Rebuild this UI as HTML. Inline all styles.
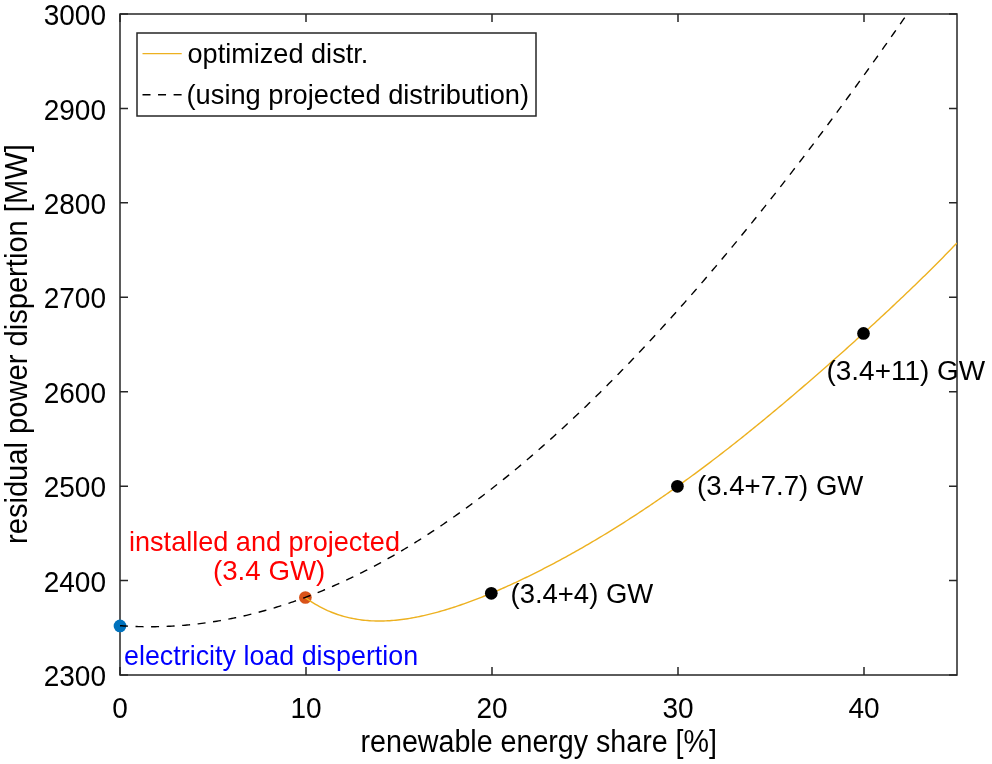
<!DOCTYPE html>
<html><head><meta charset="utf-8"><style>html,body{margin:0;padding:0;background:#fff;}svg{display:block;will-change:transform;}</style></head>
<body>
<svg width="992" height="764" viewBox="0 0 992 764">
<defs><clipPath id="ax"><rect x="120.0" y="14.0" width="837.0000000000001" height="661.0"/></clipPath></defs>
<rect x="0" y="0" width="992" height="764" fill="#fff"/>
<path d="M120.00,675.0 V667.0 M120.00,14.00 V22.00 M306.00,675.0 V667.0 M306.00,14.00 V22.00 M492.00,675.0 V667.0 M492.00,14.00 V22.00 M678.00,675.0 V667.0 M678.00,14.00 V22.00 M864.00,675.0 V667.0 M864.00,14.00 V22.00 M120.0,675.00 H128.0 M957.0000000000001,675.00 H949.0000000000001 M120.0,580.57 H128.0 M957.0000000000001,580.57 H949.0000000000001 M120.0,486.14 H128.0 M957.0000000000001,486.14 H949.0000000000001 M120.0,391.71 H128.0 M957.0000000000001,391.71 H949.0000000000001 M120.0,297.29 H128.0 M957.0000000000001,297.29 H949.0000000000001 M120.0,202.86 H128.0 M957.0000000000001,202.86 H949.0000000000001 M120.0,108.43 H128.0 M957.0000000000001,108.43 H949.0000000000001 M120.0,14.00 H128.0 M957.0000000000001,14.00 H949.0000000000001" stroke="#262626" stroke-width="1.5" fill="none"/>
<rect x="120.0" y="14.00" width="837.00" height="661.00" fill="none" stroke="#262626" stroke-width="1.5"/>
<text x="120.00" y="717.6" font-family="&apos;Liberation Sans&apos;, sans-serif" font-size="29" fill="#000" text-anchor="middle" textLength="15.58" lengthAdjust="spacingAndGlyphs">0</text>
<text x="306.00" y="717.6" font-family="&apos;Liberation Sans&apos;, sans-serif" font-size="29" fill="#000" text-anchor="middle" textLength="31.16" lengthAdjust="spacingAndGlyphs">10</text>
<text x="492.00" y="717.6" font-family="&apos;Liberation Sans&apos;, sans-serif" font-size="29" fill="#000" text-anchor="middle" textLength="31.16" lengthAdjust="spacingAndGlyphs">20</text>
<text x="678.00" y="717.6" font-family="&apos;Liberation Sans&apos;, sans-serif" font-size="29" fill="#000" text-anchor="middle" textLength="31.16" lengthAdjust="spacingAndGlyphs">30</text>
<text x="864.00" y="717.6" font-family="&apos;Liberation Sans&apos;, sans-serif" font-size="29" fill="#000" text-anchor="middle" textLength="31.16" lengthAdjust="spacingAndGlyphs">40</text>
<text x="106.0" y="686.10" font-family="&apos;Liberation Sans&apos;, sans-serif" font-size="29" fill="#000" text-anchor="end" textLength="62.32" lengthAdjust="spacingAndGlyphs">2300</text>
<text x="106.0" y="591.67" font-family="&apos;Liberation Sans&apos;, sans-serif" font-size="29" fill="#000" text-anchor="end" textLength="62.32" lengthAdjust="spacingAndGlyphs">2400</text>
<text x="106.0" y="497.24" font-family="&apos;Liberation Sans&apos;, sans-serif" font-size="29" fill="#000" text-anchor="end" textLength="62.32" lengthAdjust="spacingAndGlyphs">2500</text>
<text x="106.0" y="402.81" font-family="&apos;Liberation Sans&apos;, sans-serif" font-size="29" fill="#000" text-anchor="end" textLength="62.32" lengthAdjust="spacingAndGlyphs">2600</text>
<text x="106.0" y="308.39" font-family="&apos;Liberation Sans&apos;, sans-serif" font-size="29" fill="#000" text-anchor="end" textLength="62.32" lengthAdjust="spacingAndGlyphs">2700</text>
<text x="106.0" y="213.96" font-family="&apos;Liberation Sans&apos;, sans-serif" font-size="29" fill="#000" text-anchor="end" textLength="62.32" lengthAdjust="spacingAndGlyphs">2800</text>
<text x="106.0" y="119.53" font-family="&apos;Liberation Sans&apos;, sans-serif" font-size="29" fill="#000" text-anchor="end" textLength="62.32" lengthAdjust="spacingAndGlyphs">2900</text>
<text x="106.0" y="25.10" font-family="&apos;Liberation Sans&apos;, sans-serif" font-size="29" fill="#000" text-anchor="end" textLength="62.32" lengthAdjust="spacingAndGlyphs">3000</text>
<circle cx="120" cy="625.9" r="6.35" fill="#0072BD"/>
<circle cx="305.4" cy="597.5" r="6.35" fill="#D95319"/>
<g clip-path="url(#ax)">
<path d="M305.50,597.75 L307.50,599.17 L309.51,600.54 L311.51,601.85 L313.52,603.11 L315.52,604.32 L317.53,605.48 L319.53,606.59 L321.54,607.65 L323.54,608.66 L325.55,609.62 L327.55,610.54 L329.56,611.41 L331.56,612.24 L333.56,613.02 L335.57,613.76 L337.57,614.47 L339.58,615.13 L341.58,615.75 L343.59,616.33 L345.59,616.87 L347.60,617.38 L349.60,617.85 L351.61,618.28 L353.61,618.68 L355.62,619.05 L357.62,619.38 L359.62,619.68 L361.63,619.95 L363.63,620.18 L365.64,620.39 L367.64,620.56 L369.65,620.71 L371.65,620.83 L373.66,620.92 L375.66,620.98 L377.67,621.01 L379.67,621.02 L381.68,621.00 L383.68,620.96 L385.68,620.90 L387.69,620.81 L389.69,620.69 L391.70,620.55 L393.70,620.39 L395.71,620.21 L397.71,620.01 L399.72,619.79 L401.72,619.54 L403.73,619.28 L405.73,618.99 L407.74,618.69 L409.74,618.37 L411.74,618.02 L413.75,617.67 L415.75,617.29 L417.76,616.90 L419.76,616.48 L421.77,616.06 L423.77,615.61 L425.78,615.16 L427.78,614.68 L429.79,614.19 L431.79,613.69 L433.80,613.17 L435.80,612.63 L437.80,612.09 L439.81,611.53 L441.81,610.95 L443.82,610.36 L445.82,609.76 L447.83,609.15 L449.83,608.53 L451.84,607.89 L453.84,607.24 L455.85,606.58 L457.85,605.91 L459.86,605.23 L461.86,604.53 L463.86,603.83 L465.87,603.11 L467.87,602.39 L469.88,601.65 L471.88,600.90 L473.89,600.15 L475.89,599.38 L477.90,598.61 L479.90,597.82 L481.91,597.03 L483.91,596.23 L485.92,595.42 L487.92,594.60 L489.92,593.77 L491.93,592.93 L493.93,592.09 L495.94,591.23 L497.94,590.37 L499.95,589.50 L501.95,588.62 L503.96,587.74 L505.96,586.84 L507.97,585.94 L509.97,585.03 L511.98,584.12 L513.98,583.19 L515.98,582.26 L517.99,581.32 L519.99,580.38 L522.00,579.42 L524.00,578.46 L526.01,577.50 L528.01,576.52 L530.02,575.54 L532.02,574.56 L534.03,573.56 L536.03,572.56 L538.04,571.55 L540.04,570.54 L542.04,569.52 L544.05,568.49 L546.05,567.46 L548.06,566.42 L550.06,565.37 L552.07,564.32 L554.07,563.26 L556.08,562.19 L558.08,561.12 L560.09,560.04 L562.09,558.96 L564.10,557.87 L566.10,556.77 L568.10,555.67 L570.11,554.56 L572.11,553.45 L574.12,552.32 L576.12,551.20 L578.13,550.06 L580.13,548.92 L582.14,547.78 L584.14,546.62 L586.15,545.47 L588.15,544.30 L590.16,543.13 L592.16,541.95 L594.16,540.77 L596.17,539.58 L598.17,538.39 L600.18,537.19 L602.18,535.98 L604.19,534.77 L606.19,533.55 L608.20,532.33 L610.20,531.10 L612.21,529.86 L614.21,528.62 L616.22,527.37 L618.22,526.11 L620.22,524.85 L622.23,523.59 L624.23,522.31 L626.24,521.03 L628.24,519.75 L630.25,518.46 L632.25,517.16 L634.26,515.86 L636.26,514.55 L638.27,513.24 L640.27,511.92 L642.28,510.59 L644.28,509.26 L646.28,507.92 L648.29,506.58 L650.29,505.23 L652.30,503.87 L654.30,502.51 L656.31,501.15 L658.31,499.77 L660.32,498.39 L662.32,497.01 L664.33,495.62 L666.33,494.22 L668.34,492.82 L670.34,491.41 L672.34,490.00 L674.35,488.58 L676.35,487.15 L678.36,485.72 L680.36,484.29 L682.37,482.85 L684.37,481.40 L686.38,479.94 L688.38,478.49 L690.39,477.02 L692.39,475.55 L694.40,474.08 L696.40,472.60 L698.40,471.11 L700.41,469.62 L702.41,468.12 L704.42,466.62 L706.42,465.11 L708.43,463.60 L710.43,462.08 L712.44,460.55 L714.44,459.02 L716.45,457.49 L718.45,455.95 L720.46,454.41 L722.46,452.86 L724.46,451.30 L726.47,449.74 L728.47,448.18 L730.48,446.61 L732.48,445.03 L734.49,443.45 L736.49,441.87 L738.50,440.28 L740.50,438.69 L742.51,437.09 L744.51,435.48 L746.52,433.88 L748.52,432.26 L750.52,430.65 L752.53,429.02 L754.53,427.40 L756.54,425.77 L758.54,424.13 L760.55,422.49 L762.55,420.85 L764.56,419.20 L766.56,417.55 L768.57,415.89 L770.57,414.23 L772.58,412.57 L774.58,410.90 L776.58,409.22 L778.59,407.55 L780.59,405.87 L782.60,404.18 L784.60,402.49 L786.61,400.80 L788.61,399.10 L790.62,397.40 L792.62,395.70 L794.63,393.99 L796.63,392.28 L798.64,390.56 L800.64,388.85 L802.64,387.12 L804.65,385.40 L806.65,383.67 L808.66,381.94 L810.66,380.20 L812.67,378.46 L814.67,376.72 L816.68,374.97 L818.68,373.22 L820.69,371.47 L822.69,369.71 L824.70,367.95 L826.70,366.19 L828.70,364.42 L830.71,362.65 L832.71,360.88 L834.72,359.10 L836.72,357.32 L838.73,355.54 L840.73,353.76 L842.74,351.97 L844.74,350.18 L846.75,348.38 L848.75,346.58 L850.76,344.78 L852.76,342.97 L854.76,341.17 L856.77,339.35 L858.77,337.54 L860.78,335.72 L862.78,333.90 L864.79,332.07 L866.79,330.24 L868.80,328.41 L870.80,326.58 L872.81,324.74 L874.81,322.89 L876.82,321.05 L878.82,319.20 L880.82,317.34 L882.83,315.48 L884.83,313.62 L886.84,311.76 L888.84,309.89 L890.85,308.01 L892.85,306.13 L894.86,304.25 L896.86,302.36 L898.87,300.47 L900.87,298.57 L902.88,296.67 L904.88,294.76 L906.88,292.85 L908.89,290.94 L910.89,289.01 L912.90,287.09 L914.90,285.15 L916.91,283.21 L918.91,281.27 L920.92,279.32 L922.92,277.36 L924.93,275.40 L926.93,273.43 L928.94,271.45 L930.94,269.46 L932.94,267.47 L934.95,265.47 L936.95,263.47 L938.96,261.45 L940.96,259.43 L942.97,257.40 L944.97,255.36 L946.98,253.31 L948.98,251.25 L950.99,249.18 L952.99,247.10 L955.00,245.01 L957.00,242.92" fill="none" stroke="#EDB120" stroke-width="1.4" stroke-linejoin="round"/>
<path d="M120.00,625.68 L121.86,625.81 L123.72,625.93 L125.58,626.04 L127.44,626.14 L129.30,626.24 L131.16,626.32 L133.02,626.40 L134.88,626.47 L136.74,626.53 L138.60,626.58 L140.46,626.63 L142.32,626.67 L144.18,626.69 L146.04,626.71 L147.90,626.72 L149.76,626.73 L151.62,626.72 L153.48,626.71 L155.34,626.68 L157.20,626.65 L159.06,626.61 L160.92,626.56 L162.78,626.51 L164.64,626.44 L166.50,626.37 L168.36,626.29 L170.22,626.20 L172.08,626.10 L173.94,625.99 L175.80,625.88 L177.66,625.76 L179.52,625.62 L181.38,625.48 L183.24,625.33 L185.10,625.18 L186.96,625.01 L188.82,624.84 L190.68,624.66 L192.54,624.47 L194.40,624.27 L196.26,624.06 L198.12,623.84 L199.98,623.62 L201.84,623.39 L203.70,623.15 L205.56,622.90 L207.42,622.64 L209.28,622.37 L211.14,622.10 L213.00,621.82 L214.86,621.53 L216.72,621.23 L218.58,620.92 L220.44,620.60 L222.30,620.28 L224.16,619.95 L226.02,619.61 L227.88,619.26 L229.74,618.90 L231.60,618.53 L233.46,618.16 L235.32,617.78 L237.18,617.39 L239.04,616.99 L240.90,616.58 L242.76,616.16 L244.62,615.74 L246.48,615.31 L248.34,614.87 L250.20,614.42 L252.06,613.96 L253.92,613.50 L255.78,613.02 L257.64,612.54 L259.50,612.05 L261.36,611.55 L263.22,611.05 L265.08,610.53 L266.94,610.01 L268.80,609.48 L270.66,608.94 L272.52,608.39 L274.38,607.83 L276.24,607.27 L278.10,606.70 L279.96,606.12 L281.82,605.53 L283.68,604.93 L285.54,604.33 L287.40,603.71 L289.26,603.09 L291.12,602.46 L292.98,601.83 L294.84,601.18 L296.70,600.53 L298.56,599.87 L300.42,599.20 L302.28,598.52 L304.14,597.83 L306.00,597.14 L307.86,596.44 L309.72,595.73 L311.58,595.01 L313.44,594.28 L315.30,593.55 L317.16,592.80 L319.02,592.05 L320.88,591.30 L322.74,590.53 L324.60,589.76 L326.46,588.97 L328.32,588.18 L330.18,587.38 L332.04,586.58 L333.90,585.76 L335.76,584.94 L337.62,584.11 L339.48,583.27 L341.34,582.43 L343.20,581.57 L345.06,580.71 L346.92,579.84 L348.78,578.96 L350.64,578.08 L352.50,577.18 L354.36,576.28 L356.22,575.37 L358.08,574.46 L359.94,573.53 L361.80,572.60 L363.66,571.66 L365.52,570.71 L367.38,569.75 L369.24,568.79 L371.10,567.82 L372.96,566.84 L374.82,565.85 L376.68,564.86 L378.54,563.85 L380.40,562.84 L382.26,561.82 L384.12,560.80 L385.98,559.77 L387.84,558.72 L389.70,557.67 L391.56,556.62 L393.42,555.55 L395.28,554.48 L397.14,553.40 L399.00,552.32 L400.86,551.22 L402.72,550.12 L404.58,549.01 L406.44,547.89 L408.30,546.77 L410.16,545.63 L412.02,544.49 L413.88,543.35 L415.74,542.19 L417.60,541.03 L419.46,539.86 L421.32,538.68 L423.18,537.49 L425.04,536.30 L426.90,535.10 L428.76,533.89 L430.62,532.68 L432.48,531.46 L434.34,530.23 L436.20,528.99 L438.06,527.75 L439.92,526.49 L441.78,525.23 L443.64,523.97 L445.50,522.69 L447.36,521.41 L449.22,520.12 L451.08,518.83 L452.94,517.52 L454.80,516.21 L456.66,514.90 L458.52,513.57 L460.38,512.24 L462.24,510.90 L464.10,509.55 L465.96,508.20 L467.82,506.84 L469.68,505.47 L471.54,504.09 L473.40,502.71 L475.26,501.32 L477.12,499.93 L478.98,498.52 L480.84,497.11 L482.70,495.69 L484.56,494.27 L486.42,492.84 L488.28,491.40 L490.14,489.95 L492.00,488.50 L493.86,487.04 L495.72,485.57 L497.58,484.09 L499.44,482.61 L501.30,481.12 L503.16,479.63 L505.02,478.13 L506.88,476.62 L508.74,475.10 L510.60,473.58 L512.46,472.05 L514.32,470.51 L516.18,468.97 L518.04,467.42 L519.90,465.86 L521.76,464.30 L523.62,462.73 L525.48,461.15 L527.34,459.57 L529.20,457.98 L531.06,456.38 L532.92,454.77 L534.78,453.16 L536.64,451.54 L538.50,449.92 L540.36,448.29 L542.22,446.65 L544.08,445.01 L545.94,443.35 L547.80,441.70 L549.66,440.03 L551.52,438.36 L553.38,436.68 L555.24,435.00 L557.10,433.31 L558.96,431.61 L560.82,429.91 L562.68,428.20 L564.54,426.48 L566.40,424.76 L568.26,423.03 L570.12,421.29 L571.98,419.55 L573.84,417.80 L575.70,416.04 L577.56,414.28 L579.42,412.51 L581.28,410.74 L583.14,408.96 L585.00,407.17 L586.86,405.38 L588.72,403.58 L590.58,401.77 L592.44,399.96 L594.30,398.14 L596.16,396.31 L598.02,394.48 L599.88,392.64 L601.74,390.80 L603.60,388.95 L605.46,387.09 L607.32,385.23 L609.18,383.36 L611.04,381.49 L612.90,379.61 L614.76,377.72 L616.62,375.83 L618.48,373.93 L620.34,372.02 L622.20,370.11 L624.06,368.20 L625.92,366.27 L627.78,364.34 L629.64,362.41 L631.50,360.47 L633.36,358.52 L635.22,356.56 L637.08,354.61 L638.94,352.64 L640.80,350.67 L642.66,348.69 L644.52,346.71 L646.38,344.72 L648.24,342.72 L650.10,340.72 L651.96,338.72 L653.82,336.71 L655.68,334.69 L657.54,332.66 L659.40,330.63 L661.26,328.60 L663.12,326.56 L664.98,324.51 L666.84,322.46 L668.70,320.40 L670.56,318.33 L672.42,316.27 L674.28,314.19 L676.14,312.11 L678.00,310.02 L679.86,307.93 L681.72,305.83 L683.58,303.73 L685.44,301.62 L687.30,299.50 L689.16,297.38 L691.02,295.26 L692.88,293.13 L694.74,290.99 L696.60,288.85 L698.46,286.70 L700.32,284.55 L702.18,282.39 L704.04,280.22 L705.90,278.05 L707.76,275.88 L709.62,273.70 L711.48,271.51 L713.34,269.32 L715.20,267.12 L717.06,264.92 L718.92,262.71 L720.78,260.50 L722.64,258.28 L724.50,256.06 L726.36,253.83 L728.22,251.60 L730.08,249.36 L731.94,247.11 L733.80,244.86 L735.66,242.61 L737.52,240.35 L739.38,238.08 L741.24,235.81 L743.10,233.54 L744.96,231.26 L746.82,228.97 L748.68,226.68 L750.54,224.38 L752.40,222.08 L754.26,219.77 L756.12,217.46 L757.98,215.15 L759.84,212.83 L761.70,210.50 L763.56,208.17 L765.42,205.83 L767.28,203.49 L769.14,201.14 L771.00,198.79 L772.86,196.43 L774.72,194.07 L776.58,191.71 L778.44,189.34 L780.30,186.96 L782.16,184.58 L784.02,182.19 L785.88,179.80 L787.74,177.41 L789.60,175.01 L791.46,172.60 L793.32,170.19 L795.18,167.78 L797.04,165.36 L798.90,162.93 L800.76,160.50 L802.62,158.07 L804.48,155.63 L806.34,153.19 L808.20,150.74 L810.06,148.29 L811.92,145.83 L813.78,143.37 L815.64,140.90 L817.50,138.43 L819.36,135.95 L821.22,133.47 L823.08,130.99 L824.94,128.50 L826.80,126.00 L828.66,123.50 L830.52,121.00 L832.38,118.49 L834.24,115.98 L836.10,113.46 L837.96,110.94 L839.82,108.41 L841.68,105.88 L843.54,103.35 L845.40,100.81 L847.26,98.27 L849.12,95.72 L850.98,93.16 L852.84,90.61 L854.70,88.05 L856.56,85.48 L858.42,82.91 L860.28,80.33 L862.14,77.76 L864.00,75.17 L865.86,72.58 L867.72,69.99 L869.58,67.40 L871.44,64.80 L873.30,62.19 L875.16,59.58 L877.02,56.97 L878.88,54.35 L880.74,51.73 L882.60,49.10 L884.46,46.47 L886.32,43.84 L888.18,41.20 L890.04,38.56 L891.90,35.91 L893.76,33.26 L895.62,30.61 L897.48,27.95 L899.34,25.28 L901.20,22.62 L903.06,19.94 L904.92,17.27 L906.78,14.59 L908.64,11.91 L910.50,9.22 L912.36,6.53" fill="none" stroke="#000" stroke-width="1.4" stroke-dasharray="8 7.55"/>
</g>
<circle cx="491.3" cy="593.3" r="6.35" fill="#000"/>
<circle cx="677.4" cy="486.3" r="6.35" fill="#000"/>
<circle cx="863.5" cy="333.4" r="6.35" fill="#000"/>
<text x="129.00" y="551.0" font-family="&apos;Liberation Sans&apos;, sans-serif" font-size="28" fill="#ff0000" textLength="270.95" lengthAdjust="spacingAndGlyphs">installed and projected</text>
<text x="213.00" y="580.0" font-family="&apos;Liberation Sans&apos;, sans-serif" font-size="28" fill="#ff0000" textLength="112.28" lengthAdjust="spacingAndGlyphs">(3.4 GW)</text>
<text x="124.00" y="664.9" font-family="&apos;Liberation Sans&apos;, sans-serif" font-size="28" fill="#0000ff" textLength="294.16" lengthAdjust="spacingAndGlyphs">electricity load dispertion</text>
<text x="510.50" y="602.7" font-family="&apos;Liberation Sans&apos;, sans-serif" font-size="28.4" fill="#000000" textLength="142.70" lengthAdjust="spacingAndGlyphs">(3.4+4) GW</text>
<text x="697.00" y="495.4" font-family="&apos;Liberation Sans&apos;, sans-serif" font-size="28.4" fill="#000000" textLength="166.41" lengthAdjust="spacingAndGlyphs">(3.4+7.7) GW</text>
<text x="826.50" y="380.3" font-family="&apos;Liberation Sans&apos;, sans-serif" font-size="28.4" fill="#000000" textLength="158.66" lengthAdjust="spacingAndGlyphs">(3.4+11) GW</text>
<text x="360.50" y="752.3" font-family="&apos;Liberation Sans&apos;, sans-serif" font-size="31" fill="#000000" textLength="356.50" lengthAdjust="spacingAndGlyphs">renewable energy share [%]</text>
<text transform="translate(26.9,544.00) rotate(-90)" x="0" y="0" font-family="&apos;Liberation Sans&apos;, sans-serif" font-size="31" fill="#000000" textLength="399.80" lengthAdjust="spacingAndGlyphs">residual power dispertion [MW]</text>
<rect x="137" y="33" width="399" height="83" fill="#fff" stroke="#262626" stroke-width="1.5"/>
<path d="M142.5,53.6 H181.7" stroke="#EDB120" stroke-width="1.4"/>
<path d="M142.5,94.8 H181.7" stroke="#000" stroke-width="1.4" stroke-dasharray="8 7.55"/>
<text x="187.50" y="62.8" font-family="&apos;Liberation Sans&apos;, sans-serif" font-size="28" fill="#000000" textLength="180.78" lengthAdjust="spacingAndGlyphs">optimized distr.</text>
<text x="186.50" y="103.5" font-family="&apos;Liberation Sans&apos;, sans-serif" font-size="28" fill="#000000" textLength="342.62" lengthAdjust="spacingAndGlyphs">(using projected distribution)</text>
</svg>
</body></html>
